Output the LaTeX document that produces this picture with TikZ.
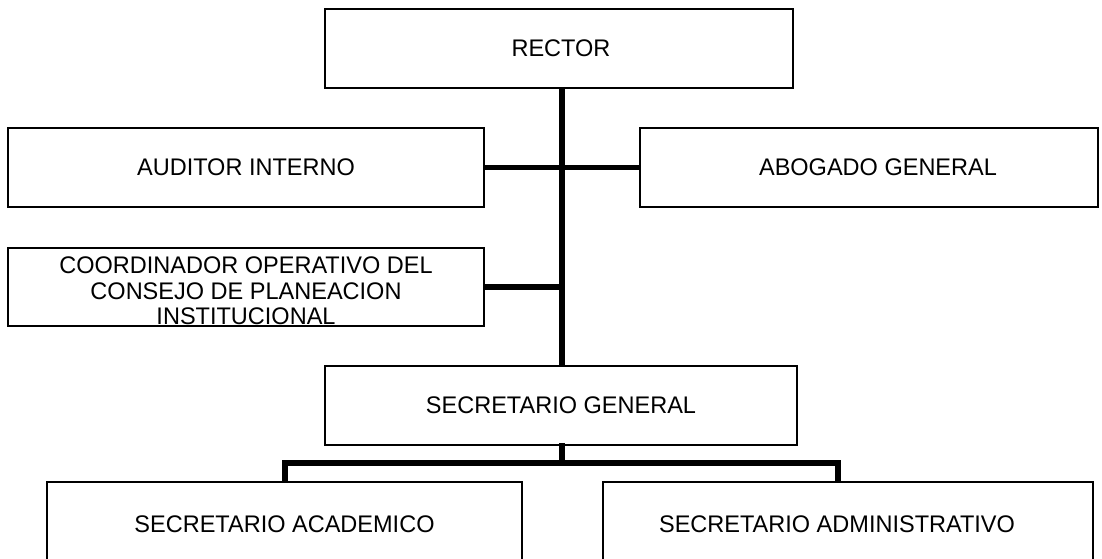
\documentclass[tikz,border=0pt]{standalone}
\usepackage{fontspec}
\setmainfont[FakeStretch=0.98]{Liberation Sans}
\begin{document}
\begin{tikzpicture}[x=1pt,y=-1pt,
  box/.style={draw=black,line width=1.3pt,rectangle,inner sep=0pt,font=\fontsize{24}{25.5}\selectfont,align=center},
  conn/.style={draw=black,line width=5.5pt}]
\useasboundingbox (0,0) rectangle (1102,558);
\fill[white] (0,0) rectangle (1102,558);
% boxes
\node[box,minimum width=468pt,minimum height=79pt] (rector) at (559,48.5) {\raisebox{-4.5pt}{\hspace*{4pt}RECTOR}};
\node[box,minimum width=476pt,minimum height=79pt] (aud) at (246,167.5) {AUDITOR INTERNO};
\node[box,minimum width=458pt,minimum height=79pt] (abog) at (869,167.5) {\hspace*{18pt}ABOGADO GENERAL};
\node[box,minimum width=476pt,minimum height=78pt] (coord) at (246,287) {};
\node[font=\fontsize{24}{25.5}\selectfont,align=center,inner sep=0pt] (coordtxt) at (246,291) {COORDINADOR OPERATIVO DEL\\CONSEJO DE PLANEACION\\INSTITUCIONAL};
\node[box,minimum width=472pt,minimum height=79pt] (sg) at (561,405.5) {SECRETARIO GENERAL};
\node[box,minimum width=475pt,minimum height=84pt] (acad) at (284.5,524) {SECRETARIO ACADEMICO};
\node[box,minimum width=490pt,minimum height=84pt] (admin) at (848,524) {\hspace*{-22pt}SECRETARIO ADMINISTRATIVO};
% connectors
\coordinate (spine) at (562,0);
\coordinate (adminin) at (838,482);
\coordinate (acadin) at (285,482);
\draw[conn] (rector.south -| spine) -- (sg.north -| spine);
\draw[conn] (aud.east) -- (abog.west);
\draw[conn] (coord.east) -- (coord.east -| spine);
\draw[conn,line cap=rect] (sg.south -| spine) -- ++(0,17.5) coordinate (mid);
\draw[conn] (acadin) -- (acadin |- mid) -- (adminin |- mid) -- (adminin);
\end{tikzpicture}
\end{document}
